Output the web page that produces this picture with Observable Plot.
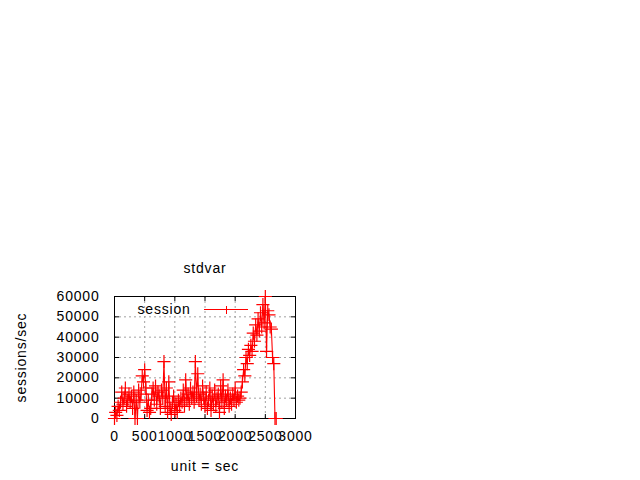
<!DOCTYPE html>
<html>
<head>
<meta charset="utf-8">
<script src="https://cdn.jsdelivr.net/npm/d3@7"></script>
<script src="https://cdn.jsdelivr.net/npm/@observablehq/plot@0.6"></script>
<style>
  html, body { margin: 0; padding: 0; background: #fff; }
  svg { display: block; }
</style>
</head>
<body>
<div id="chart"></div>
<script>
// sampling step (seconds) of the session-rate series
const stepSec = 20;

// sessions/sec, one value per 20 s
const rampUp   = [0, 3000, 1500, 6000, 4000, 8000];                                       // 0-100
const phaseA   = [13000, 7000, 10000, 15000, 6000, 9000, 12000, 8000, 11000, 5000];        // 120-300
const dipA     = [13000, 0, 9000, 0, 14000];                                               // 320-400
const peakA    = [8000, 12000, 21000, 18000, 24000];                                       // 420-500
const dropA    = [15000, 4000, 9000, 3000, 5000];                                          // 520-600
const phaseB   = [12000, 15000, 9000, 16000, 7000, 13000, 11000, 5000, 14000, 10000];      // 620-800
const peakB    = [28000, 6000, 15000, 3000, 18000];                                        // 820-900
const lowC     = [5000, 2000, 8000, 11000, 4000, 7000, 3000, 9000, 6000, 10000];           // 920-1100
const phaseD   = [8000, 14000, 6000, 19000, 9000, 12000, 7000, 15000, 10000, 13000];       // 1120-1300
const peakE    = [8000, 28000, 11000, 22000, 9000, 12000, 7000, 16000, 10000, 6000];       // 1320-1500
const phaseF   = [13000, 5000, 9000, 15000, 4000, 11000, 7000, 14000, 6000, 10000];        // 1520-1700
const phaseG   = [12000, 3000, 16000, 8000, 19000, 5000, 11000, 9000, 14000, 6000];        // 1720-1900
const phaseH   = [10000, 7000, 12000, 9000, 15000, 8000, 11000, 9000, 10000, 13000];       // 1920-2100
const climb    = [18000, 24000, 21000, 30000, 27000, 34000, 31000, 36000, 33000, 42000];   // 2120-2300
const plateau  = [38000, 46000, 41000, 49000, 43000, 52000, 45000, 56000, 47000, 60000];   // 2320-2500
const tail     = [33000, 53000, 51000, 45000, 44000, 30000, 27000, 0, 0];                  // 2520-2680

const sessions = [...rampUp, ...phaseA, ...dipA, ...peakA, ...dropA, ...phaseB, ...peakB,
  ...lowC, ...phaseD, ...peakE, ...phaseF, ...phaseG, ...phaseH, ...climb, ...plateau, ...tail];

const xTicks = [0, 500, 1000, 1500, 2000, 2500, 3000];
const yTicks = [0, 10000, 20000, 30000, 40000, 50000, 60000];
const seriesName = "session";
const titleText = "stdvar";
const xLabel = "unit = sec";
const yLabel = "sessions/sec";

const data = sessions.map((v, i) => ({t: i * stepSec, v}));

const font = "'Liberation Sans', Arial, sans-serif";

const legendMark = (index, scales, values, dims) => {
  const ns = "http://www.w3.org/2000/svg";
  const g = document.createElementNS(ns, "g");
  const y = dims.marginTop + 13.5;
  const x1 = dims.marginLeft + 90, x2 = dims.marginLeft + 134, xm = (x1 + x2) / 2;
  const l = document.createElementNS(ns, "path");
  l.setAttribute("d", `M${x1},${y}H${x2}M${xm},${y - 4}V${y + 4}M${xm - 4},${y}H${xm + 4}`);
  l.setAttribute("stroke", "red");
  l.setAttribute("fill", "none");
  l.setAttribute("shape-rendering", "crispEdges");
  g.appendChild(l);
  return g;
};

const chart = Plot.plot({
  width: 640,
  height: 480,
  marginLeft: 114,
  marginRight: 345,
  marginTop: 296,
  marginBottom: 62,
  style: {fontFamily: font, fontSize: "14px", letterSpacing: "0.8px", color: "#000", background: "#fff"},
  x: {domain: [0, 3000]},
  y: {domain: [0, 60000]},
  marks: [
    Plot.gridX(xTicks, {stroke: "#a0a0a0", strokeOpacity: 1, strokeDasharray: "2,3"}),
    Plot.gridY(yTicks, {stroke: "#a0a0a0", strokeOpacity: 1, strokeDasharray: "2,3"}),
    Plot.axisX(xTicks, {anchor: "bottom", tickSize: -4, tickPadding: 17, tickFormat: d => String(d),
      fontSize: 14, label: xLabel, labelAnchor: "center", labelArrow: "none", labelOffset: 52}),
    Plot.axisX(xTicks, {anchor: "top", tickSize: -4, tickFormat: () => "", label: null}),
    Plot.axisY(yTicks, {anchor: "left", tickSize: -5, tickPadding: 20, tickFormat: d => String(d),
      fontSize: 14, label: yLabel, labelAnchor: "center", labelArrow: "none", labelOffset: 98}),
    Plot.axisY(yTicks, {anchor: "right", tickSize: -5, tickFormat: () => "", label: null}),
    Plot.frame({stroke: "black", strokeWidth: 1}),
    Plot.line(data, {x: "t", y: "v", stroke: "red", strokeWidth: 1.1}),
    Plot.dot(data, {x: "t", y: "v", symbol: "plus", r: 4.3, stroke: "red", strokeWidth: 1.2}),
    Plot.text([seriesName], {frameAnchor: "top-left", dx: 23, dy: 13, lineAnchor: "middle", textAnchor: "start", fontSize: 14}),
    legendMark,
    Plot.text([titleText], {frameAnchor: "top", dy: -28, lineAnchor: "middle", fontSize: 14})
  ]
});
document.getElementById("chart").appendChild(chart);
</script>
</body>
</html>
